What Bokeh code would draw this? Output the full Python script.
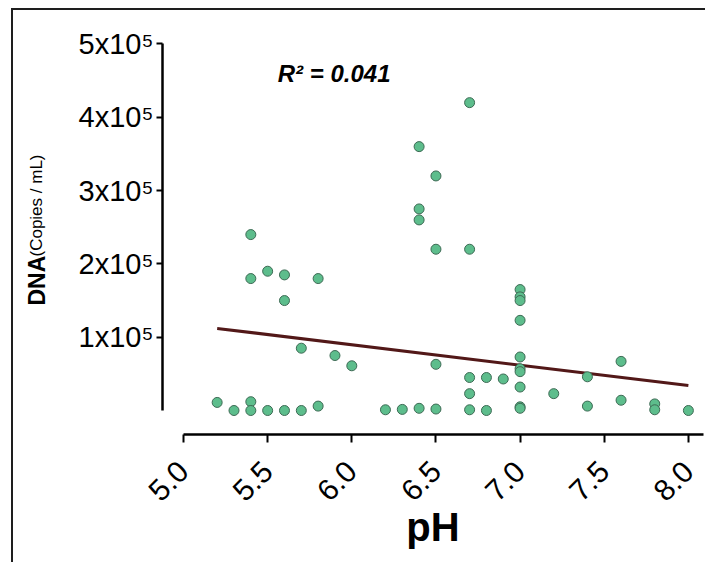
import math
from bokeh.plotting import figure
from bokeh.layouts import row
from bokeh.models import Range1d, FixedTicker, Label, ColumnDataSource
from bokeh.core.properties import value
from bokeh.embed import file_html
from bokeh.resources import INLINE

# ---- data ----
ph = [5.2, 5.3,
      5.4, 5.4, 5.4, 5.4,
      5.5, 5.5,
      5.6, 5.6, 5.6,
      5.7, 5.7,
      5.8, 5.8,
      5.9, 6.0, 6.2, 6.3,
      6.4, 6.4, 6.4, 6.4,
      6.5, 6.5, 6.5, 6.5,
      6.7, 6.7, 6.7, 6.7, 6.7,
      6.8, 6.8, 6.9,
      7.0, 7.0, 7.0, 7.0, 7.0, 7.0, 7.0, 7.0, 7.0, 7.0,
      7.2, 7.4, 7.4, 7.6, 7.6, 7.8, 7.8, 8.0]
dna = [11000, 0,
       240000, 180000, 12000, 0,
       190000, 0,
       185000, 150000, 0,
       85000, 0,
       180000, 6000,
       75000, 61000, 1000, 1500,
       360000, 275000, 260000, 3000,
       320000, 220000, 63000, 2000,
       420000, 220000, 45000, 23000, 1000,
       45000, 0, 43000,
       165000, 155000, 150000, 123000, 73000, 57000, 53000, 32000, 5000, 3000,
       23000, 46000, 6000, 67000, 14000, 9000, 1000, 0]

fit_x = [5.2, 8.0]
fit_y = [112000, 34000]

x_ticks = [5.0, 5.5, 6.0, 6.5, 7.0, 7.5, 8.0]
x_tick_labels = ["5.0", "5.5", "6.0", "6.5", "7.0", "7.5", "8.0"]
y_ticks = [100000, 200000, 300000, 400000, 500000]
y_tick_labels = ["1x10\u2075", "2x10\u2075", "3x10\u2075", "4x10\u2075", "5x10\u2075"]
r2_text = "R\u00b2 = 0.041"
y_title_bold = "DNA"
y_title_unit = "(Copies / mL)"

FONT = "Liberation Sans"

# ---- left strip holding the y title ----
left = figure(frame_width=40, frame_height=552,
              min_border_left=0, min_border_right=0,
              min_border_top=0, min_border_bottom=0,
              x_range=Range1d(13, 53), y_range=Range1d(562, 10),
              output_backend="svg", toolbar_location=None,
              background_fill_color="white", border_fill_color="white",
              align="start")
left.axis.visible = False
left.grid.visible = False
left.outline_line_color = None
left.text(x=[36], y=[285], text=[y_title_bold], angle=math.pi / 2,
          text_font=value(FONT), text_font_style="bold",
          text_font_size="23px", text_color="black",
          text_align="left", text_baseline="alphabetic")
left.text(x=[36], y=[236], text=[y_title_unit], angle=math.pi / 2,
          text_font=value(FONT), text_font_size="17px", text_color="black",
          text_align="left", text_baseline="alphabetic")

# ---- main plot ----
p = figure(frame_width=541, frame_height=404,
           min_border_left=109, min_border_right=2,
           min_border_top=20, min_border_bottom=128,
           x_range=Range1d(4.8752, 8.0898), y_range=Range1d(-32742, 518417),
           output_backend="svg", toolbar_location=None,
           background_fill_color="white", border_fill_color="white",
           align="start")
p.outline_line_color = None
p.xgrid.grid_line_color = None
p.ygrid.grid_line_color = None

xa = p.xaxis[0]
xa.ticker = FixedTicker(ticks=x_ticks)
xa.major_label_overrides = {t: l for t, l in zip(x_ticks, x_tick_labels)}
xa.bounds = (5.0, 8.1)
xa.minor_tick_line_color = None
xa.major_tick_in = 0
xa.major_tick_out = 8
xa.major_tick_line_width = 2
xa.axis_line_width = 2.5
xa.major_label_orientation = math.pi / 4
xa.major_label_text_font = FONT
xa.major_label_text_font_size = "30px"
xa.major_label_text_color = "black"
xa.major_label_standoff = 24
xa.axis_label = "pH"
xa.axis_label_text_font = FONT
xa.axis_label_text_font_style = "bold"
xa.axis_label_text_font_size = "40px"
xa.axis_label_text_color = "black"
xa.axis_label_standoff = -8

ya = p.yaxis[0]
ya.ticker = FixedTicker(ticks=y_ticks)
ya.major_label_overrides = {t: l for t, l in zip(y_ticks, y_tick_labels)}
ya.bounds = (0, 500000)
ya.minor_tick_line_color = None
ya.major_tick_in = 0
ya.major_tick_out = 6
ya.major_tick_line_width = 2
ya.axis_line_width = 2.5
ya.major_label_text_font = FONT
ya.major_label_text_font_size = "29px"
ya.major_label_text_color = "black"
ya.major_label_standoff = 3

p.line(fit_x, fit_y, line_color="#521818", line_width=3)
src = ColumnDataSource(dict(x=ph, y=dna))
p.scatter("x", "y", source=src, size=10, fill_color="#5dbd8c",
          line_color="#3d6a54", line_width=1)

p.add_layout(Label(x=5.56, y=459700, text=r2_text, text_font=FONT,
                   text_font_style="bold italic", text_font_size="24px",
                   text_color="black", text_align="left",
                   text_baseline="alphabetic"))

layout = row(left, p, styles={"margin-left": "11px", "margin-top": "8px",
                              "border-left": "2px solid #1e1e1e",
                              "border-top": "2px solid #1e1e1e"})

open("out.html", "w").write(file_html(layout, INLINE))
